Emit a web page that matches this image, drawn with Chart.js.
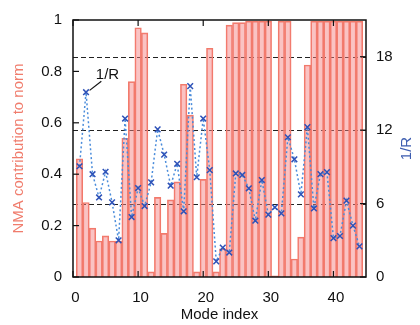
<!DOCTYPE html>
<html><head><meta charset="utf-8">
<script src="https://cdn.jsdelivr.net/npm/chart.js@4.4.0/dist/chart.umd.min.js"></script>
<style>html,body{margin:0;padding:0;background:#fff;}#wrap{width:420px;height:325px;}</style>
</head><body><div id="wrap"><canvas id="c" width="420" height="325"></canvas></div>
<script>
const modeIndex = [1,2,3,4,5,6,7,8,9,10,11,12,13,14,15,16,17,18,19,20,21,22,23,24,25,26,27,28,29,30,31,32,33,34,35,36,37,38,39,40,41,42,43,44];
const nmaContribution = [0.46,0.29,0.19,0.14,0.16,0.14,0.14,0.54,0.76,0.97,
  0.95,0.02,0.31,0.17,0.30,0.37,0.75,0.63,0.02,0.38,
  0.89,0.02,0.11,0.98,0.99,0.99,0.995,0.995,0.995,0.995,
  0.005,0.995,0.995,0.07,0.155,0.825,0.995,0.995,0.995,0.995,
  0.995,0.995,0.995,0.995];
const inverseR = [9.05,15.1,8.4,6.5,8.6,6.1,3.0,12.95,4.9,7.27,
  5.8,7.73,12.06,10.0,7.46,9.25,5.37,15.6,8.15,12.95,
  8.73,1.28,2.4,2.0,8.46,8.34,7.25,4.6,7.92,5.1,
  5.7,5.2,11.42,9.62,6.75,12.25,5.6,8.41,8.57,3.18,
  3.35,6.24,4.2,2.5];
const xTicks = [0,10,20,30,40];
const leftTicks = [0,0.2,0.4,0.6,0.8,1];
const leftTickLabels = ['0','0.2','0.4','0.6','0.8','1'];
const rightTicks = [0,6,12,18];

const FONT = "'Liberation Sans', Arial, sans-serif";
const barPoints = modeIndex.map((m,i)=>({x:m, y:nmaContribution[i]}));
const linePoints = modeIndex.map((m,i)=>({x:m, y:inverseR[i]}));

const framePlugin = {
  id:'frame',
  beforeDatasetsDraw(chart){
    const {ctx, chartArea:a, scales} = chart;
    ctx.save();
    ctx.strokeStyle='#222'; ctx.lineWidth=1.1; ctx.setLineDash([5,3]);
    rightTicks.filter(v=>v>0).forEach(v=>{
      const y = Math.round(scales.y2.getPixelForValue(v))+0.5;
      ctx.beginPath(); ctx.moveTo(a.left,y); ctx.lineTo(a.right,y); ctx.stroke();
    });
    ctx.restore();
  },
  afterDatasetsDraw(chart){
    const {ctx, chartArea:a, scales} = chart;
    ctx.save();
    ctx.strokeStyle='#111'; ctx.lineWidth=1.5; ctx.setLineDash([]);
    ctx.strokeRect(a.left, a.top, a.right-a.left, a.bottom-a.top);
    const tl = 6;
    ctx.lineWidth=1.2;
    xTicks.forEach(v=>{
      const x = scales.x.getPixelForValue(v);
      ctx.beginPath(); ctx.moveTo(x,a.bottom); ctx.lineTo(x,a.bottom-tl);
      ctx.moveTo(x,a.top); ctx.lineTo(x,a.top+tl); ctx.stroke();
    });
    leftTicks.forEach(v=>{
      const y = scales.y.getPixelForValue(v);
      ctx.beginPath(); ctx.moveTo(a.left,y); ctx.lineTo(a.left+tl,y); ctx.stroke();
    });
    rightTicks.forEach(v=>{
      const y = scales.y2.getPixelForValue(v);
      ctx.beginPath(); ctx.moveTo(a.right,y); ctx.lineTo(a.right-tl,y); ctx.stroke();
    });
    // annotation
    ctx.fillStyle='#111';
    ctx.font = "15px "+FONT;
    ctx.textAlign='center'; ctx.textBaseline='alphabetic';
    ctx.fillText('1/R', scales.x.getPixelForValue(5.3), scales.y2.getPixelForValue(16.2));
    ctx.beginPath();
    ctx.moveTo(scales.x.getPixelForValue(4.35), scales.y2.getPixelForValue(16.0));
    ctx.lineTo(scales.x.getPixelForValue(2.55), scales.y2.getPixelForValue(15.25));
    ctx.stroke();
    // right axis title, reading bottom to top
    ctx.save();
    ctx.translate(407, (a.top+a.bottom)/2);
    ctx.rotate(-Math.PI/2);
    ctx.fillStyle='#3D5DB0';
    ctx.textAlign='center'; ctx.textBaseline='middle';
    ctx.fillText('1/R', 0, 0);
    ctx.restore();
    ctx.restore();
  }
};

new Chart(document.getElementById('c'), {
  type:'bar',
  data:{datasets:[
    {type:'line', label:'1/R', data:linePoints, yAxisID:'y2', xAxisID:'x', order:0,
     borderColor:'#4A8CDB', borderWidth:1.5, borderDash:[2,2.5], fill:false, tension:0,
     pointStyle:'crossRot', pointRadius:4, pointBorderColor:'#2E52B8', pointBorderWidth:1.5,
     pointBackgroundColor:'#2E52B8'},
    {type:'bar', label:'NMA', data:barPoints, yAxisID:'y', xAxisID:'x', order:1,
     backgroundColor:'rgba(244,128,128,0.47)', borderColor:'#F27A6A', borderWidth:1,
     barPercentage:1, categoryPercentage:1}
  ]},
  options:{
    responsive:false, animation:false, devicePixelRatio:1,
    layout:{padding:{top:18,left:0,right:0,bottom:0}},
    plugins:{legend:{display:false}, tooltip:{enabled:false}},
    scales:{
      x:{type:'linear', position:'bottom', min:0, max:45, offset:false,
         grid:{display:false, drawTicks:false}, border:{display:false},
         afterBuildTicks:s=>{s.ticks = xTicks.map(v=>({value:v}));},
         afterFit:s=>{s.height=48;},
         ticks:{font:{family:FONT,size:15}, color:'#111', padding:12, labelOffset:2.5, maxRotation:0},
         title:{display:true, text:'Mode index', font:{family:FONT,size:15}, color:'#111', padding:{top:0,bottom:1}}},
      y:{type:'linear', position:'left', min:0, max:1,
         grid:{display:false, drawTicks:false}, border:{display:false},
         afterBuildTicks:s=>{s.ticks = leftTicks.map(v=>({value:v}));},
         afterFit:s=>{s.width=73;},
         ticks:{font:{family:FONT,size:15}, color:'#111', padding:11,
                callback:(v)=>{const i=leftTicks.indexOf(v); return i>=0?leftTickLabels[i]:'';}},
         title:{display:true, text:'NMA contribution to norm', font:{family:FONT,size:15}, color:'#F07C6C', padding:{top:10,bottom:0}}},
      y2:{type:'linear', position:'right', min:0, max:21,
         grid:{display:false, drawTicks:false}, border:{display:false},
         afterBuildTicks:s=>{s.ticks = rightTicks.map(v=>({value:v}));},
         afterFit:s=>{s.width=54;},
         ticks:{font:{family:FONT,size:15}, color:'#111', padding:10},
         title:{display:false}}
    }
  },
  plugins:[framePlugin]
});
</script></body></html>
